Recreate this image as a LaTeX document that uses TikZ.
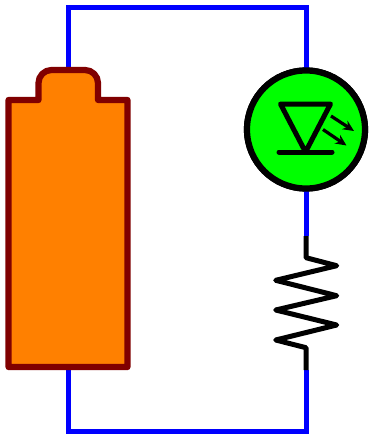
\documentclass[tikz,border=0pt]{standalone}
\usetikzlibrary{arrows.meta}
\definecolor{batfill}{RGB}{255,128,0}
\definecolor{batedge}{RGB}{128,0,0}
\definecolor{ledfill}{RGB}{0,255,0}
\tikzset{
  wire/.style={draw=blue,line width=5pt,line cap=butt,line join=miter},
  battery/.style={draw=batedge,fill=batfill,line width=6.2pt,line join=round},
  ledbody/.style={circle,draw=black,fill=ledfill,line width=6.2pt,minimum size=118pt,inner sep=0pt,outer sep=0pt},
  symb/.style={draw=black,line width=5pt,line join=round,line cap=round},
  ray/.style={draw=black,line width=3.2pt,-{Stealth[length=11pt,width=10pt]}},
  lead/.style={draw=black,line width=5pt,line join=round,line cap=butt}
}
\begin{document}
\begin{tikzpicture}[x=1pt,y=-1pt]
\useasboundingbox (0,0) rectangle (369,434);
\coordinate (batTop) at (68,70);
\coordinate (batBot) at (68,367);
\coordinate (tl) at (68,7.5);
\coordinate (tr) at (306,7.5);
\coordinate (bl) at (68,431);
\coordinate (br) at (306,431);
\coordinate (resTop) at (306,236);
\coordinate (resBot) at (306,370);
\node[ledbody] (led) at (306,129.5) {};
% wires
\draw[wire] (batTop) -- (tl) -- (tr) -- (led.north);
\draw[wire] (led.south) -- (resTop);
\draw[wire] (resBot) -- (br) -- (bl) -- (batBot);
% battery
\draw[battery] (8.5,100) -- (38.5,100) [rounded corners=13pt] -- (38.5,70) -- (98,70) [sharp corners] -- (98,100)
  -- (127.5,100) -- (127.5,367) -- (8.5,367) -- cycle;
% LED
\node[ledbody] at (led) {};
\draw[symb] (280.5,104) -- (330.5,104) -- (305.5,152) -- cycle;
\draw[symb] (279,152) -- (332,152);
\draw[ray] (331,116) -- (354,131);
\draw[ray] (323,129.5) -- (346.5,145.5);
% resistor
\draw[lead] (resTop) -- (306,257.7) -- (336.7,265.7) -- (275.7,280.3) -- (336.7,295.7) -- (275.7,310)
  -- (336.7,325) -- (275.7,340) -- (306,347.7) -- (resBot);
\end{tikzpicture}
\end{document}
